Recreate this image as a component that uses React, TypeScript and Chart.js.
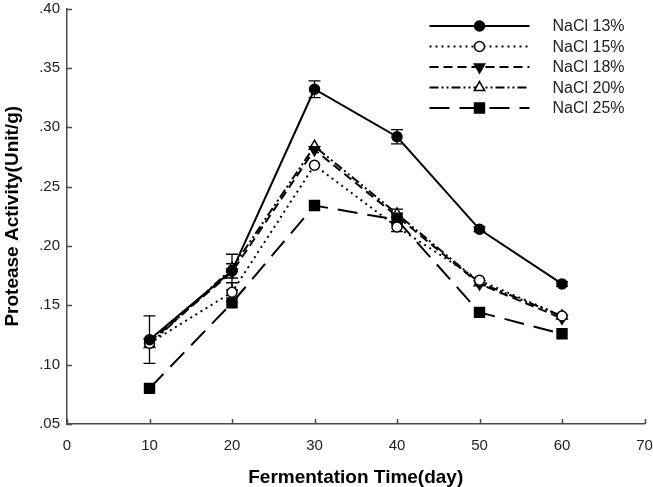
import React, { useEffect, useRef } from 'react';
import { Chart, registerables } from 'chart.js';

Chart.register(...registerables);

// Fermentation days and protease activity (Unit/g) per salt level
const days = [10, 20, 30, 40, 50, 60];
const nacl13 = [0.121, 0.179, 0.332, 0.292, 0.214, 0.168];
const nacl15 = [0.118, 0.161, 0.268, 0.216, 0.171, 0.141];
const nacl18 = [0.119, 0.178, 0.281, 0.225, 0.168, 0.139];
const nacl20 = [0.117, 0.181, 0.284, 0.227, 0.169, 0.141];
const nacl25 = [0.080, 0.152, 0.234, 0.222, 0.144, 0.126];

// Standard deviations (0 = no error bar drawn)
const err13 = [0.020, 0.006, 0.007, 0.006, 0.002, 0.002];
const err15 = [0, 0.008, 0, 0.004, 0, 0];
const err18 = [0, 0.015, 0, 0.006, 0, 0];
const err20 = [0, 0, 0, 0, 0, 0];
const err25 = [0, 0, 0, 0, 0, 0];

const seriesLabels = ['NaCl 13%', 'NaCl 15%', 'NaCl 18%', 'NaCl 20%', 'NaCl 25%'];
const xTickValues = [0, 10, 20, 30, 40, 50, 60, 70];
const yTickValues = [0.05, 0.10, 0.15, 0.20, 0.25, 0.30, 0.35, 0.40];

const FONT = '"Liberation Sans", Arial, Helvetica, sans-serif';
const AXIS_COLOR = '#4a4a4a';
const TEXT_COLOR = '#222';

type MarkerKind = 'circle' | 'triangle' | 'rect';

function drawMarker(
  ctx: CanvasRenderingContext2D,
  kind: MarkerKind,
  rotation: number,
  x: number,
  y: number,
  r: number,
  fill: string,
  lineWidth: number
) {
  ctx.save();
  ctx.setLineDash([]);
  ctx.fillStyle = fill;
  ctx.strokeStyle = '#000';
  ctx.lineWidth = lineWidth;
  ctx.translate(x, y);
  ctx.rotate((rotation * Math.PI) / 180);
  ctx.beginPath();
  if (kind === 'circle') {
    ctx.arc(0, 0, r, 0, Math.PI * 2);
  } else if (kind === 'triangle') {
    const h = 1.5 * r;
    const half = (Math.sqrt(3) * r) / 2;
    ctx.moveTo(0, -r);
    ctx.lineTo(half, -r + h);
    ctx.lineTo(-half, -r + h);
    ctx.closePath();
  } else {
    const s = Math.SQRT1_2 * r;
    ctx.rect(-s, -s, 2 * s, 2 * s);
  }
  ctx.fill();
  ctx.stroke();
  ctx.restore();
}

const errorBarPlugin = {
  id: 'errorBars',
  beforeDatasetsDraw(chart: any) {
    const { ctx, scales } = chart;
    const xs = scales.x;
    const ys = scales.y;
    chart.data.datasets.forEach((ds: any) => {
      const errs: number[] = ds.errors || [];
      ds.data.forEach((pt: any, i: number) => {
        const e = errs[i];
        if (!e) return;
        const px = xs.getPixelForValue(pt.x);
        const top = ys.getPixelForValue(pt.y + e);
        const bot = ys.getPixelForValue(pt.y - e);
        ctx.save();
        ctx.strokeStyle = '#000';
        ctx.lineWidth = 1.3;
        ctx.setLineDash([]);
        ctx.beginPath();
        ctx.moveTo(px, top);
        ctx.lineTo(px, bot);
        ctx.moveTo(px - 6, top);
        ctx.lineTo(px + 6, top);
        ctx.moveTo(px - 6, bot);
        ctx.lineTo(px + 6, bot);
        ctx.stroke();
        ctx.restore();
      });
    });
  },
};

// Short tick marks pointing into the plot area
const innerTicksPlugin = {
  id: 'innerTicks',
  afterDraw(chart: any) {
    const { ctx, scales, chartArea } = chart;
    ctx.save();
    ctx.strokeStyle = AXIS_COLOR;
    ctx.lineWidth = 1.5;
    ctx.beginPath();
    xTickValues.forEach((v) => {
      const px = Math.round(scales.x.getPixelForValue(v)) + 0.5;
      ctx.moveTo(px, chartArea.bottom);
      ctx.lineTo(px, chartArea.bottom - 5);
    });
    yTickValues.forEach((v) => {
      const py = Math.round(scales.y.getPixelForValue(v)) + 0.5;
      ctx.moveTo(chartArea.left, py);
      ctx.lineTo(chartArea.left + 5, py);
    });
    ctx.stroke();
    ctx.restore();
  },
};

const legendPlugin = {
  id: 'lineLegend',
  afterDraw(chart: any) {
    const { ctx, chartArea } = chart;
    const lineStart = chartArea.right - 215;
    const lineEnd = chartArea.right - 115;
    const textX = chartArea.right - 92;
    const top = chartArea.top + 17.5;
    const step = 20.5;
    chart.data.datasets.forEach((ds: any, i: number) => {
      const y = top + i * step;
      ctx.save();
      ctx.strokeStyle = '#000';
      ctx.lineWidth = ds.borderWidth;
      ctx.setLineDash(ds.borderDash || []);
      ctx.beginPath();
      ctx.moveTo(lineStart, y);
      ctx.lineTo(lineEnd, y);
      ctx.stroke();
      ctx.restore();
      drawMarker(
        ctx,
        ds.pointStyle,
        ds.pointRotation || 0,
        (lineStart + lineEnd) / 2,
        y,
        ds.pointRadius,
        ds.pointBackgroundColor,
        ds.pointBorderWidth
      );
      ctx.save();
      ctx.fillStyle = TEXT_COLOR;
      ctx.font = `16px ${FONT}`;
      ctx.textAlign = 'left';
      ctx.textBaseline = 'middle';
      ctx.fillText(ds.label, textX, y + 1);
      ctx.restore();
    });
  },
};

function toPoints(values: number[]) {
  return days.map((d, i) => ({ x: d, y: values[i] }));
}

export default function App() {
  const canvasRef = useRef<HTMLCanvasElement | null>(null);

  useEffect(() => {
    const canvas = canvasRef.current;
    if (!canvas) return;

    const base = {
      borderColor: '#000',
      pointBorderColor: '#000',
      pointBorderWidth: 1.5,
      tension: 0,
      fill: false,
    };

    const datasets: any[] = [
      {
        ...base,
        label: seriesLabels[0],
        data: toPoints(nacl13),
        errors: err13,
        borderWidth: 2,
        borderDash: [],
        pointStyle: 'circle',
        pointRadius: 5,
        pointBackgroundColor: '#000',
      },
      {
        ...base,
        label: seriesLabels[1],
        data: toPoints(nacl15),
        errors: err15,
        borderWidth: 2,
        borderDash: [2, 4],
        pointStyle: 'circle',
        pointRadius: 5,
        pointBackgroundColor: '#fff',
      },
      {
        ...base,
        label: seriesLabels[2],
        data: toPoints(nacl18),
        errors: err18,
        borderWidth: 2,
        borderDash: [9, 5],
        pointStyle: 'triangle',
        pointRotation: 180,
        pointRadius: 6,
        pointBackgroundColor: '#000',
      },
      {
        ...base,
        label: seriesLabels[3],
        data: toPoints(nacl20),
        errors: err20,
        borderWidth: 2,
        borderDash: [9, 3, 2, 3, 2, 3],
        pointStyle: 'triangle',
        pointRotation: 0,
        pointRadius: 6,
        pointBackgroundColor: '#fff',
      },
      {
        ...base,
        label: seriesLabels[4],
        data: toPoints(nacl25),
        errors: err25,
        borderWidth: 2,
        borderDash: [20, 10],
        pointStyle: 'rect',
        pointRadius: 7,
        pointBackgroundColor: '#000',
      },
    ];

    const chart = new Chart(canvas, {
      type: 'line',
      data: { datasets },
      plugins: [errorBarPlugin, innerTicksPlugin, legendPlugin],
      options: {
        responsive: false,
        animation: false,
        layout: { padding: { top: 5, right: 8, left: 0, bottom: 0 } },
        plugins: {
          legend: { display: false },
          tooltip: { enabled: false },
        },
        scales: {
          x: {
            type: 'linear',
            min: 0,
            max: 70,
            afterBuildTicks: (scale: any) => {
              scale.ticks = xTickValues.map((v) => ({ value: v }));
            },
            afterFit: (scale: any) => {
              scale.height = 63;
              scale.paddingLeft = 0;
              scale.paddingRight = 0;
            },
            grid: { display: false, drawTicks: false },
            border: { display: true, color: AXIS_COLOR, width: 1.5 },
            ticks: {
              padding: 13,
              color: TEXT_COLOR,
              font: { family: FONT, size: 15 },
              maxRotation: 0,
              autoSkip: false,
            },
            title: {
              display: true,
              text: 'Fermentation Time(day)',
              color: '#000',
              font: { family: FONT, size: 19, weight: 'bold', lineHeight: 1 },
              padding: { top: 0, bottom: 0 },
            },
          },
          y: {
            type: 'linear',
            min: 0.05,
            max: 0.4,
            afterBuildTicks: (scale: any) => {
              scale.ticks = yTickValues.map((v) => ({ value: v }));
            },
            afterFit: (scale: any) => {
              scale.width = 67;
              scale.paddingTop = 0;
              scale.paddingBottom = 0;
            },
            grid: { display: false, drawTicks: false },
            border: { display: true, color: AXIS_COLOR, width: 1.5 },
            ticks: {
              padding: 7,
              color: TEXT_COLOR,
              font: { family: FONT, size: 15 },
              autoSkip: false,
              callback: (v: any) => Number(v).toFixed(2).replace(/^0/, ''),
            },
            title: {
              display: true,
              text: 'Protease Activity(Unit/g)',
              color: '#000',
              font: { family: FONT, size: 19, weight: 'bold' },
              padding: { top: 1, bottom: 0 },
            },
          },
        },
      } as any,
    });

    return () => chart.destroy();
  }, []);

  return (
    <div style={{ position: 'fixed', left: 0, top: 0, width: 653, height: 487, background: '#fff' }}>
      <canvas ref={canvasRef} width={653} height={487} style={{ display: 'block' }} />
    </div>
  );
}
